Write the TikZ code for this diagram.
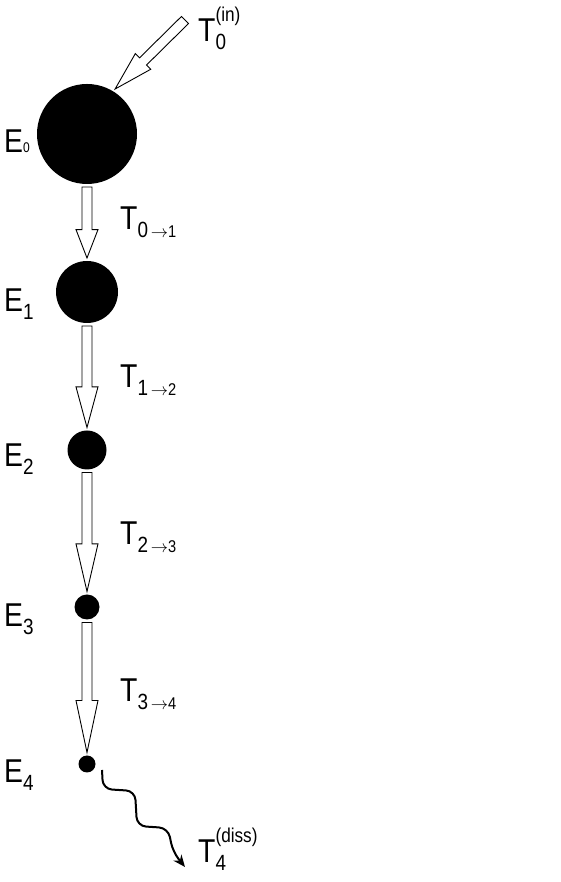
\documentclass[tikz,border=0pt]{standalone}
\usepackage{fontspec}
\setmainfont{Liberation Sans}[FakeStretch=0.86]
\tikzset{energy/.style = {circle, fill=black, inner sep=0pt, outer sep=3pt},
         lbl/.style = {anchor=base west, inner sep=0pt, font=\fontsize{33}{40}\selectfont},
         flux/.style = {draw=black, fill=white, line width=0.9pt, line join=miter}}
\usetikzlibrary{calc,arrows.meta}
\newcommand{\lo}[1]{\raisebox{-0.22em}{\fontsize{22}{22}\selectfont #1}}
\newcommand{\hi}[1]{\raisebox{0.62em}{\fontsize{20}{20}\selectfont #1}}
\newcommand{\trans}[2]{\lo{#1{\fontsize{17}{17}\selectfont\,$\rightarrow$#2}}}
\newcommand{\fatarrow}[2]{%
  \coordinate (h) at ($(#1)!0.6!(#2)$);
  \draw[flux] ($(#1)!5pt!90:(#2)$) -- ($(h)!5pt!90:(#2)$) -- ($(h)!11pt!90:(#2)$)
    -- (#2) -- ($(h)!11pt!-90:(#2)$) -- ($(h)!5pt!-90:(#2)$) -- ($(#1)!5pt!-90:(#2)$) -- cycle;}

\begin{document}
\begin{tikzpicture}[x=1pt,y=1pt]
\useasboundingbox (0,0) rectangle (561,882);
% cascade of levels
\node[energy, minimum size=100pt] (E0) at (87,748) {};
\node[energy, minimum size=62pt]  (E1) at (87,590) {};
\node[energy, minimum size=39pt]  (E2) at (87,432) {};
\node[energy, minimum size=25pt]  (E3) at (87,275) {};
\node[energy, minimum size=17pt]  (E4) at (87,118) {};
\node[lbl] (l0) at (4,729) {E\raisebox{0pt}{\fontsize{14}{14}\selectfont 0}};
\node[lbl] (l1) at (4,570) {E\lo{1}};
\node[lbl] (l2) at (4,415) {E\lo{2}};
\node[lbl] (l3) at (4,255) {E\lo{3}};
\node[lbl] (l4) at (4,99)  {E\lo{4}};
% transfers
\coordinate (in) at (185,862);
\fatarrow{in}{E0.58}
\fatarrow{E0.south}{E1.north}
\fatarrow{E1.south}{E2.north}
\fatarrow{E2.south}{E3.north}
\fatarrow{E3.south}{E4.north}
\node[lbl] (t0) at (198,840) {T\rlap{\lo{0}}\hi{(in)}};
\node[lbl] (t1) at (120,652) {T\trans{0}{1}};
\node[lbl] (t2) at (120,494) {T\trans{1}{2}};
\node[lbl] (t3) at (120,337) {T\trans{2}{3}};
\node[lbl] (t4) at (120,180) {T\trans{3}{4}};
% dissipation
\coordinate (d0) at (102,112);
\coordinate (d1) at (185,15);
\draw[line width=2pt, rounded corners=9pt, -{Stealth[open, length=12pt, width=10pt]}]
  (d0) -- (103,93) -- (135,91) -- (137,56) -- (168,54) -- (173,30) -- (d1);
\node[lbl] (t5) at (198,19) {T\rlap{\lo{4}}\hi{(diss)}};
\end{tikzpicture}
\end{document}
